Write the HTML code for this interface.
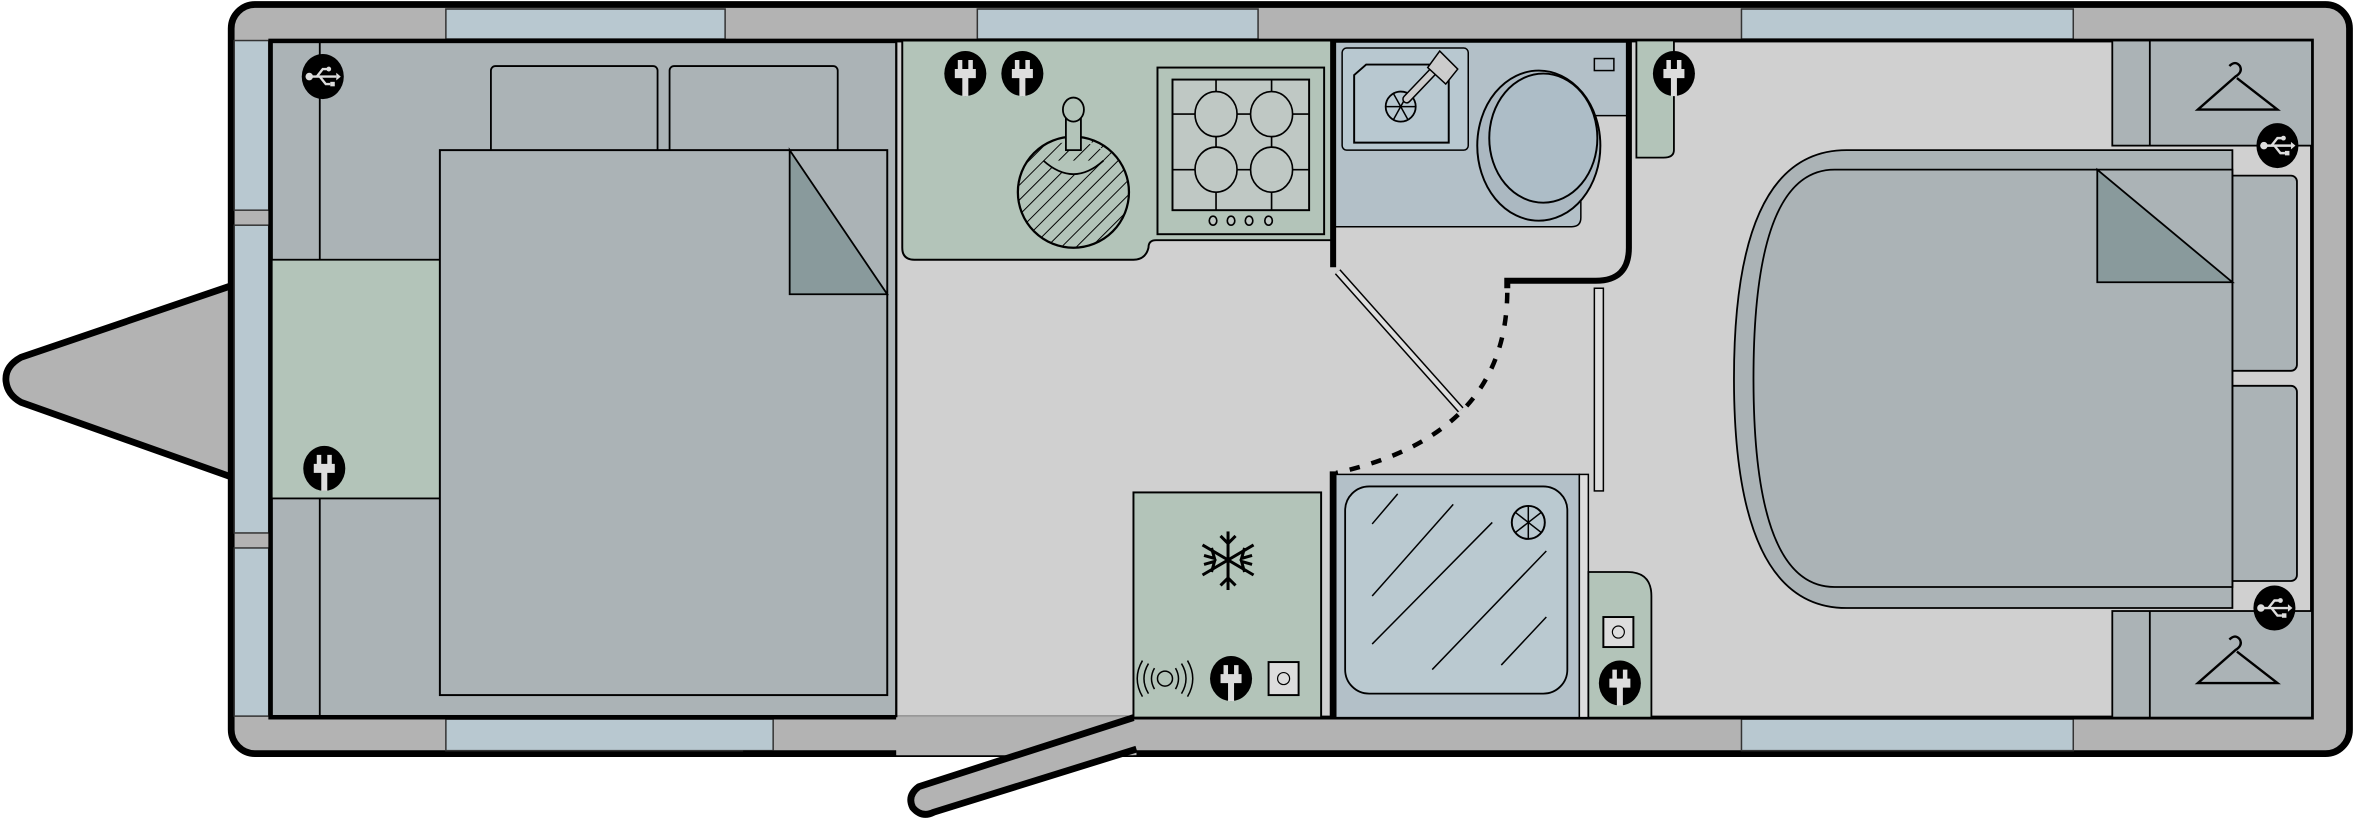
<!DOCTYPE html>
<html><head><meta charset="utf-8"><style>html,body{margin:0;padding:0;background:#fff}svg{display:block}</style></head>
<body>
<svg width="2354" height="823" viewBox="0 0 1568 548.2" preserveAspectRatio="none" xmlns="http://www.w3.org/2000/svg">
<defs>
<pattern id="hatch" width="7" height="7" patternUnits="userSpaceOnUse" patternTransform="rotate(45)">
<rect width="7" height="7" fill="#b3c4b9"/><line x1="0" y1="0" x2="0" y2="7" stroke="#000" stroke-width="1.3"/></pattern>
<g id="plug"><ellipse cx="0" cy="0" rx="14" ry="15" fill="#000"/><path d="M-7,-3 h14 v6 h-5 v12 h-4 v-12 h-5z M-5,-9 h3 v6 h-3z M2,-9 h3 v6 h-3z" fill="#ddd"/></g>
<g id="usb"><ellipse cx="0" cy="0" rx="14" ry="15" fill="#000"/><g stroke="#ddd" stroke-width="1.6" fill="none"><line x1="-9" y1="0" x2="9" y2="0"/><path d="M-4,0 l4,-5 h4 M-2,0 l4,5 h3"/></g><circle cx="-9" cy="0" r="2.5" fill="#ddd"/><path d="M9,-2.5 l3,2.5 -3,2.5z" fill="#ddd"/><circle cx="4" cy="-5" r="1.6" fill="#ddd"/><rect x="5" y="3.5" width="3" height="3" fill="#ddd"/></g>
</defs>
<!-- A-frame -->
<path d="M155,190 L14,238 Q3,244 4,254 Q5,263 14,268 L155,318 Z" fill="#b3b3b3" stroke="#000" stroke-width="4.5" stroke-linejoin="round"/>
<!-- body -->
<rect x="154" y="3" width="1411" height="499" rx="16" fill="#b3b3b3" stroke="#000" stroke-width="4.5"/>
<!-- windows -->
<g fill="#b8c8d0" stroke="#333" stroke-width="1">
<rect x="297" y="6" width="186" height="20"/><rect x="651" y="6" width="187" height="20"/><rect x="1160" y="6" width="221" height="20"/>
<rect x="297" y="479" width="218" height="21"/><rect x="1160" y="479" width="221" height="21"/>
<rect x="156" y="27" width="23" height="113"/><rect x="156" y="150" width="23" height="205"/><rect x="156" y="365" width="23" height="112"/>
</g>
<!-- floor -->
<rect x="180" y="27" width="1360" height="451" fill="#d0d0d0" stroke="#000" stroke-width="2.5"/>
<!-- door opening -->
<rect x="597" y="477" width="158" height="26" fill="#b3b3b3"/>
<line x1="495" y1="502" x2="597" y2="502" stroke="#000" stroke-width="4"/>
<rect x="597" y="478" width="160" height="25" fill="#b3b3b3"/>
<path d="M755,478 L612,524 Q604,530 608,538 Q614,545 622,541 L757,499" fill="#b3b3b3" stroke="#000" stroke-width="4.5" stroke-linejoin="round"/>
<line x1="755" y1="478" x2="1540" y2="478" stroke="#000" stroke-width="2.5"/>
<!-- left bedroom -->
<rect x="181" y="28" width="416" height="449" fill="#abb3b6" stroke="#000" stroke-width="1.5"/>
<line x1="213" y1="28" x2="213" y2="173" stroke="#000" stroke-width="1.2"/>
<line x1="213" y1="332" x2="213" y2="477" stroke="#000" stroke-width="1.2"/>
<rect x="181" y="173" width="112" height="159" fill="#b3c4b9" stroke="#000" stroke-width="1.2"/>
<rect x="327" y="44" width="111" height="70" rx="3" fill="#abb3b6" stroke="#000" stroke-width="1.2"/>
<rect x="446" y="44" width="112" height="85" rx="3" fill="#abb3b6" stroke="#000" stroke-width="1.2"/>
<rect x="293" y="100" width="298" height="363" fill="#abb3b6" stroke="#000" stroke-width="1.3"/>
<path d="M526,100 L591,196 L526,196 Z" fill="#899a9c" stroke="#000" stroke-width="1.2"/>
<use href="#usb" x="215" y="51"/>
<use href="#plug" x="216" y="312"/>
<!-- kitchen -->
<path d="M601,27 H888 V160 H770 Q765,160 765,165 Q763,173 755,173 H609 Q601,173 601,165 Z" fill="#b3c4b9" stroke="#000" stroke-width="1.3"/>
<use href="#plug" x="643" y="49"/><use href="#plug" x="681" y="49"/>
<ellipse cx="715" cy="128" rx="37" ry="37" fill="url(#hatch)" stroke="#000" stroke-width="1.5"/>
<path d="M690,104 Q715,80 740,104 Q726,93 715,95 Q704,93 690,104" fill="#b3c4b9"/>
<path d="M695,107 Q715,125 735,107" fill="#b3c4b9" stroke="#000" stroke-width="1.2"/>
<rect x="710" y="78" width="10" height="22" fill="#b3c4b9" stroke="#000" stroke-width="1.2"/>
<ellipse cx="715" cy="73" rx="7" ry="8" fill="#b3c4b9" stroke="#000" stroke-width="1.2"/>
<rect x="771" y="45" width="111" height="111" fill="#b3c4b9" stroke="#000" stroke-width="1.3"/>
<rect x="781" y="53" width="91" height="87" fill="#bfc8c4" stroke="#000" stroke-width="1.3"/>
<g stroke="#000" stroke-width="1.1" fill="#bfc8c4">
<line x1="810" y1="53" x2="810" y2="140"/><line x1="847" y1="53" x2="847" y2="140"/>
<line x1="781" y1="76" x2="872" y2="76"/><line x1="781" y1="113" x2="872" y2="113"/>
<ellipse cx="810" cy="76" rx="14" ry="15"/><ellipse cx="847" cy="76" rx="14" ry="15"/>
<ellipse cx="810" cy="113" rx="14" ry="15"/><ellipse cx="847" cy="113" rx="14" ry="15"/>
<ellipse cx="808" cy="147" rx="2.5" ry="3"/><ellipse cx="820" cy="147" rx="2.5" ry="3"/><ellipse cx="832" cy="147" rx="2.5" ry="3"/><ellipse cx="845" cy="147" rx="2.5" ry="3"/>
</g>
<!-- washroom -->
<rect x="889" y="28" width="195" height="124" fill="#d0d0d0"/>
<path d="M889,28 H1084 V77 H1053 V145 Q1053,151 1047,151 H889 Z" fill="#b3c0c8" stroke="#000" stroke-width="1"/>
<rect x="1062" y="39" width="13" height="8" fill="#b3c0c8" stroke="#000" stroke-width="1"/>
<rect x="894" y="32" width="84" height="68" rx="3" fill="#b8c8d0" stroke="#000" stroke-width="1"/>
<path d="M902,50 L910,43 H965 V95 H902 Z" fill="#b8c8d0" stroke="#000" stroke-width="1.3"/>
<circle cx="921" cy="108" r="0" fill="none"/>
<ellipse cx="933" cy="71" rx="10" ry="10" fill="#b8c8d0" stroke="#000" stroke-width="1.2"/>
<g stroke="#000" stroke-width="1"><line x1="923" y1="71" x2="943" y2="71"/><line x1="928" y1="62" x2="938" y2="80"/><line x1="938" y1="62" x2="928" y2="80"/></g>
<path d="M937,66 L958,44" stroke="#000" stroke-width="6" stroke-linecap="round"/>
<path d="M937,66 L958,44" stroke="#ccc" stroke-width="4" stroke-linecap="round"/>
<path d="M951,45 L959,34 L971,46 L963,56 Z" fill="#ccc" stroke="#000" stroke-width="1"/>
<ellipse cx="1025" cy="97" rx="41" ry="50" fill="#abb8c1" stroke="#000" stroke-width="1.3"/>
<ellipse cx="1028" cy="92" rx="36" ry="43" fill="#adbdc7" stroke="#000" stroke-width="1.3"/>
<path d="M888,27 V178" stroke="#000" stroke-width="4"/>
<path d="M1085,27 V165 Q1085,187 1063,187 H1004 V192" stroke="#000" stroke-width="4" fill="none"/>
<path d="M1090,27 H1115 V100 Q1115,105 1108,105 H1090 Z" fill="#b3c4b9" stroke="#000" stroke-width="1.2"/>
<use href="#plug" x="1115" y="49"/>
<!-- door -->
<path d="M891,181 L973,273" stroke="#000" stroke-width="5"/>
<path d="M891,181 L973,273" stroke="#ddd" stroke-width="3"/>
<path d="M1004,195 Q1003,290 890,315" stroke="#000" stroke-width="3" fill="none" stroke-dasharray="7,8"/>
<rect x="1062" y="192" width="6" height="135" fill="#ddd" stroke="#000" stroke-width="1"/>
<!-- fridge -->
<rect x="755" y="328" width="125" height="150" fill="#b3c4b9" stroke="#000" stroke-width="1.3"/>
<g stroke="#000" stroke-width="2" fill="none">
<line x1="818" y1="354" x2="818" y2="393"/><line x1="801" y1="363" x2="835" y2="383"/><line x1="801" y1="383" x2="835" y2="363"/>
<path d="M813,357 l5,5 5,-5 M813,390 l5,-5 5,5 M802,370 l7,2 -2,-7 M834,376 l-7,-2 2,7 M802,376 l7,-2 -2,7 M834,370 l-7,2 2,-7"/>
</g>
<g stroke="#000" stroke-width="1" fill="none">
<circle cx="776" cy="452" r="5"/><path d="M769,445 q-4,7 0,14 M783,445 q4,7 0,14 M765,442 q-6,10 0,20 M787,442 q6,10 0,20 M761,440 q-7,12 0,24 M791,440 q7,12 0,24"/>
</g>
<use href="#plug" x="820" y="452"/>
<rect x="845" y="441" width="20" height="22" fill="#ddd" stroke="#000" stroke-width="1.3"/>
<circle cx="855" cy="452" r="4" fill="none" stroke="#000" stroke-width="0.8"/>
<!-- shower -->
<rect x="888" y="316" width="164" height="162" fill="#b3c0c8" stroke="#000" stroke-width="1"/>
<rect x="896" y="324" width="148" height="138" rx="16" fill="#bac9d0" stroke="#000" stroke-width="1.2"/>
<g stroke="#000" stroke-width="1">
<line x1="914" y1="349" x2="931" y2="329"/><line x1="914" y1="397" x2="968" y2="336"/><line x1="914" y1="429" x2="994" y2="348"/><line x1="954" y1="446" x2="1030" y2="367"/><line x1="1000" y1="443" x2="1030" y2="411"/>
</g>
<circle cx="1018" cy="348" r="11" fill="#bac9d0" stroke="#000" stroke-width="1.3"/>
<g stroke="#000" stroke-width="1"><line x1="1018" y1="337" x2="1018" y2="359"/><line x1="1009" y1="341" x2="1027" y2="355"/><line x1="1009" y1="355" x2="1027" y2="341"/></g>
<path d="M888,314 V478" stroke="#000" stroke-width="4.5"/>
<rect x="1052" y="316" width="6" height="162" fill="#ddd" stroke="#000" stroke-width="1"/>
<path d="M1058,381 H1084 Q1100,381 1100,397 V478 H1058 Z" fill="#b3c4b9" stroke="#000" stroke-width="1.2"/>
<rect x="1068" y="411" width="20" height="20" fill="#ddd" stroke="#000" stroke-width="1.3"/>
<circle cx="1078" cy="421" r="4" fill="none" stroke="#000" stroke-width="0.8"/>
<use href="#plug" x="1079" y="455"/>
<!-- right bedroom -->
<rect x="1407" y="27" width="133" height="70" fill="#abb3b6" stroke="#000" stroke-width="1.2"/>
<line x1="1432" y1="27" x2="1432" y2="97" stroke="#000" stroke-width="1.2"/>
<rect x="1407" y="407" width="133" height="71" fill="#abb3b6" stroke="#000" stroke-width="1.2"/>
<line x1="1432" y1="407" x2="1432" y2="478" stroke="#000" stroke-width="1.2"/>
<g stroke="#000" stroke-width="1.6" fill="none">
<path d="M1485,44 q4,-4 7,0 q2,4 -3,7 L1464,73 H1517 L1490,52"/>
<path d="M1485,426 q4,-4 7,0 q2,4 -3,7 L1464,455 H1517 L1490,434"/>
</g>
<rect x="1450" y="117" width="80" height="130" rx="4" fill="#abb3b6" stroke="#000" stroke-width="1.2"/>
<rect x="1450" y="257" width="80" height="130" rx="4" fill="#abb3b6" stroke="#000" stroke-width="1.2"/>
<path d="M1487,100 H1230 Q1155,100 1155,252 Q1155,405 1230,405 H1487 Z" fill="#abb3b6" stroke="#000" stroke-width="1.2"/>
<path d="M1487,113 H1222 Q1168,113 1168,252 Q1168,391 1222,391 H1487 Z" fill="#abb3b6" stroke="#000" stroke-width="1.2"/>
<path d="M1397,113 L1487,188 L1397,188 Z" fill="#899a9c" stroke="#000" stroke-width="1.2"/>
<use href="#usb" x="1517" y="97"/>
<use href="#usb" x="1515" y="405"/>
</svg>
</body></html>
